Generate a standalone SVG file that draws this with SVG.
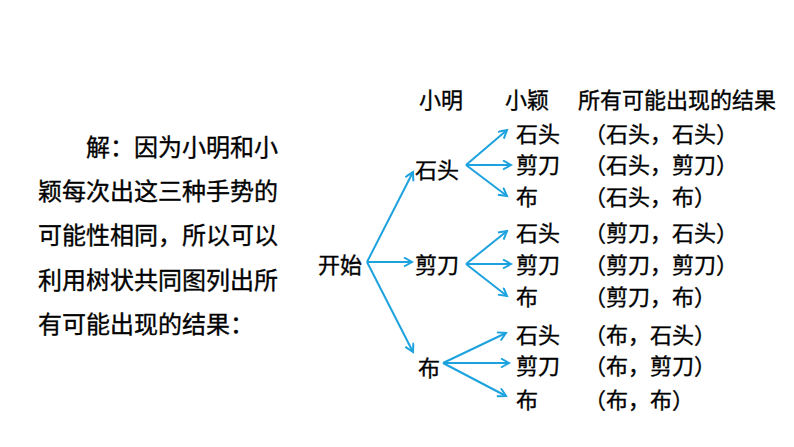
<svg xmlns="http://www.w3.org/2000/svg" width="794" height="447" viewBox="0 0 794 447">
<style>
text{font-family:"Noto Sans CJK SC","Noto Sans",sans-serif;fill:#000;stroke:#000;stroke-width:0.35}
.p{font-size:24px;stroke-width:0.5}
.t{font-size:22px}
.c line{stroke:#1ca2de;stroke-width:2;fill:none;marker-end:url(#ah)}
</style>
<defs>
<marker id="ah" markerUnits="userSpaceOnUse" markerWidth="12" markerHeight="12" refX="9" refY="5" orient="auto">
<path d="M1,0.5 L9,5 L1,9.5" fill="none" stroke="#1ca2de" stroke-width="2"/>
</marker>
</defs>
<rect width="794" height="447" fill="#fff"/>
<g id="explanation" class="p">
<text x="86" y="156">解：因为小明和小</text>
<text x="38" y="200">颖每次出这三种手势的</text>
<text x="38" y="244">可能性相同，所以可以</text>
<text x="38" y="289">利用树状共同图列出所</text>
<text x="38" y="333">有可能出现的结果：</text>
</g>
<g id="headers" class="t">
<text x="419" y="108">小明</text>
<text x="505" y="108">小颖</text>
<text x="578" y="108">所有可能出现的结果</text>
</g>
<g id="start" class="t"><text x="318" y="273">开始</text></g>
<g id="m-rock" class="t"><text x="415" y="178">石头</text></g>
<g id="m-scissors" class="t"><text x="415" y="273">剪刀</text></g>
<g id="m-paper" class="t"><text x="418" y="376">布</text></g>
<g id="y1" class="t"><text x="516" y="142">石头</text><text x="584" y="142">（石头，石头）</text></g>
<g id="y2" class="t"><text x="516" y="173">剪刀</text><text x="584" y="173">（石头，剪刀）</text></g>
<g id="y3" class="t"><text x="516" y="205">布</text><text x="584" y="205">（石头，布）</text></g>
<g id="y4" class="t"><text x="516" y="241">石头</text><text x="584" y="241">（剪刀，石头）</text></g>
<g id="y5" class="t"><text x="516" y="273">剪刀</text><text x="584" y="273">（剪刀，剪刀）</text></g>
<g id="y6" class="t"><text x="516" y="305">布</text><text x="584" y="305">（剪刀，布）</text></g>
<g id="y7" class="t"><text x="516" y="343">石头</text><text x="584" y="343">（布，石头）</text></g>
<g id="y8" class="t"><text x="516" y="374">剪刀</text><text x="584" y="374">（布，剪刀）</text></g>
<g id="y9" class="t"><text x="516" y="408">布</text><text x="584" y="408">（布，布）</text></g>
<g id="connectors" class="c">
<line x1="367" y1="262" x2="413" y2="172"/>
<line x1="367" y1="262" x2="412" y2="262"/>
<line x1="367" y1="262" x2="413" y2="352"/>
<line x1="466" y1="165" x2="507" y2="130"/>
<line x1="466" y1="165" x2="511" y2="165"/>
<line x1="466" y1="165" x2="507" y2="196"/>
<line x1="466" y1="264" x2="507" y2="231"/>
<line x1="466" y1="264" x2="511" y2="264"/>
<line x1="466" y1="264" x2="507" y2="296"/>
<line x1="443" y1="363" x2="506" y2="333"/>
<line x1="443" y1="363" x2="509" y2="363"/>
<line x1="443" y1="363" x2="506" y2="396"/>
</g>
</svg>
